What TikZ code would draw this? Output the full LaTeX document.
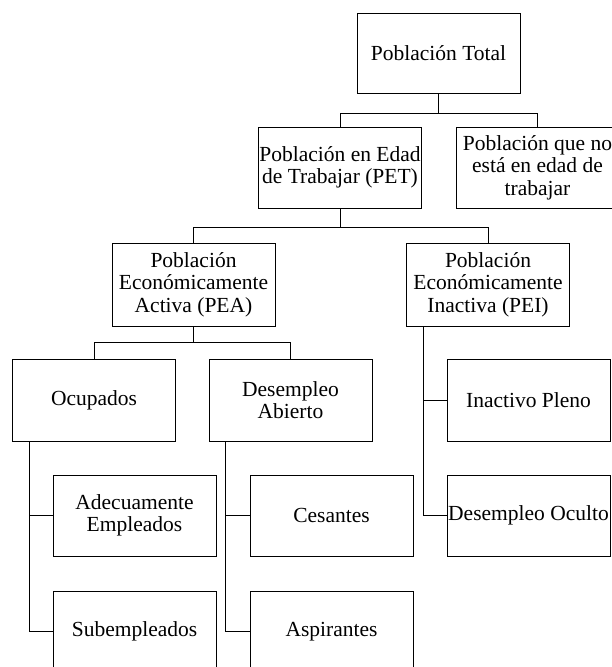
\documentclass[tikz,border=0pt]{standalone}
\usepackage{fontspec}
\setmainfont{Liberation Serif}
\usepackage{tikz}

\tikzset{
  caja/.style={draw, line width=0.9pt, minimum width=163pt, minimum height=81pt,
    align=center, inner sep=0pt, font=\fontsize{21.5}{22.5}\selectfont},
  rama/.style={line width=0.9pt}
}

\begin{document}
\begin{tikzpicture}[x=1pt, y=-1pt]
\useasboundingbox (0,0) rectangle (611,667);

\node[caja, minimum height=80pt] (total) at (438.5, 53) {Población Total};
\node[caja] (pet) at (340, 167.5) {Población en Edad\\de Trabajar (PET)};
\node[caja] (nopet) at (537.5, 167.5) {Población que no\\está en edad de\\trabajar};

\node[caja, minimum height=83pt] (pea) at (193.5, 284.5) {Población\\Económicamente\\Activa (PEA)};
\node[caja, minimum height=83pt] (pei) at (488, 284.5) {Población\\Económicamente\\Inactiva (PEI)};

\node[caja, minimum height=82pt] (ocup) at (94, 400) {Ocupados};
\node[caja, minimum height=82pt] (desab) at (290.5, 400) {Desempleo\\Abierto};
\node[caja, minimum height=82pt] (inacp) at (528.5, 400) {Inactivo Pleno};

\node[caja] (adec) at (134.5, 515.5) {Adecuamente\\Empleados};
\node[caja] (subemp) at (134.5, 631.5) {Subempleados};
\node[caja] (ces) at (331.5, 515.5) {Cesantes};
\node[caja] (asp) at (331.5, 631.5) {Aspirantes};
\node[caja] (desoc) at (528.5, 515.5) {Desempleo Oculto};

\draw[rama] (total.south) -- ++(0,20) -| (pet.north);
\draw[rama] (total.south) -- ++(0,20) -| (nopet.north);

\draw[rama] (pet.south) -- ++(0,19) -| (pea.north);
\draw[rama] (pet.south) -- ++(0,19) -| (pei.north);

\draw[rama] (pea.south) -- ++(0,16) -| (ocup.north);
\draw[rama] (pea.south) -- ++(0,16) -| (desab.north);

\draw[rama] (ocup.south west) ++(17,0) |- (adec.west);
\draw[rama] (ocup.south west) ++(17,0) |- (subemp.west);
\draw[rama] (desab.south west) ++(17,0) |- (ces.west);
\draw[rama] (desab.south west) ++(17,0) |- (asp.west);
\draw[rama] (pei.south west) ++(17,0) |- (inacp.west);
\draw[rama] (pei.south west) ++(17,0) |- (desoc.west);
\end{tikzpicture}
\end{document}
